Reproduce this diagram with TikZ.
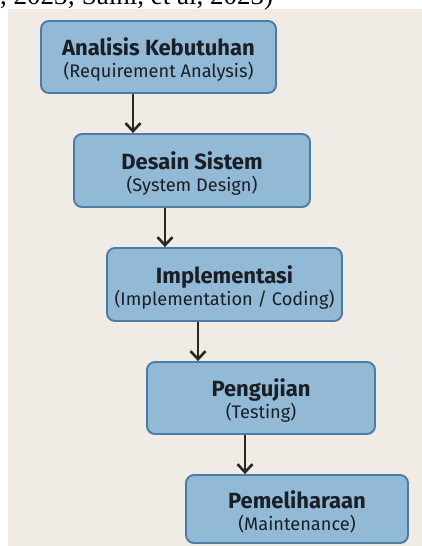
\documentclass[tikz,border=0pt]{standalone}
\usepackage{fontspec}
\setmainfont{Liberation Serif}
\newfontfamily\boxfont{Fira Sans}
\usetikzlibrary{arrows.meta}
\definecolor{bgbeige}{HTML}{F0EBE5}
\definecolor{boxfill}{HTML}{92B9D6}
\definecolor{boxline}{HTML}{4C7BA3}
\definecolor{arrowc}{HTML}{2A2622}
\definecolor{textc}{HTML}{1A1F26}
\newcommand{\stagetext}[2]{\raisebox{0pt}[\dimexpr\height+6pt\relax]{\fontsize{22}{22}\selectfont\bfseries #1}\\{\fontsize{18.2}{22}\selectfont #2}}
\begin{document}
\begin{tikzpicture}[x=1pt,y=-1pt,
  stage/.style={draw=boxline, line width=1.9pt, fill=boxfill, rounded corners=8pt,
    align=center, inner sep=0pt, text=textc, font=\boxfont\fontsize{18.2}{22}\selectfont},
  flow/.style={draw=arrowc, line width=2.6pt, -{Straight Barb[length=8pt,width=15pt,line width=2.6pt]}}
]
\clip (0,0) rectangle (422,546);
\useasboundingbox (0,0) rectangle (422,546);
\fill[bgbeige] (8,9) rectangle (422,546);
\node[anchor=base west, font=\fontsize{27}{27}\selectfont, inner sep=0pt] (cite) at (0,5) {, 2023; Saini, et al, 2023)};

\node[stage, minimum width=235pt, minimum height=72pt] (b1) at (158.5,57) {\stagetext{Analisis Kebutuhan}{(Requirement Analysis)}};
\node[stage, minimum width=236pt, minimum height=73pt] (b2) at (192,170.5) {\stagetext{Desain Sistem}{(System Design)}};
\node[stage, minimum width=235pt, minimum height=73pt] (b3) at (224.5,284.5) {\stagetext{Implementasi}{(Implementation / Coding)}};
\node[stage, minimum width=228pt, minimum height=72pt] (b4) at (261,398) {\stagetext{Pengujian}{(Testing)}};
\node[stage, minimum width=222pt, minimum height=68pt] (b5) at (297,509) {\stagetext{Pemeliharaan}{(Maintenance)}};

\coordinate (x1) at (133,0);
\coordinate (x2) at (165,0);
\coordinate (x3) at (198,0);
\coordinate (x4) at (245,0);
\draw[flow] (b1.south -| x1) -- (b2.north -| x1);
\draw[flow] (b2.south -| x2) -- (b3.north -| x2);
\draw[flow] (b3.south -| x3) -- (b4.north -| x3);
\draw[flow] (b4.south -| x4) -- (b5.north -| x4);
\end{tikzpicture}
\end{document}
